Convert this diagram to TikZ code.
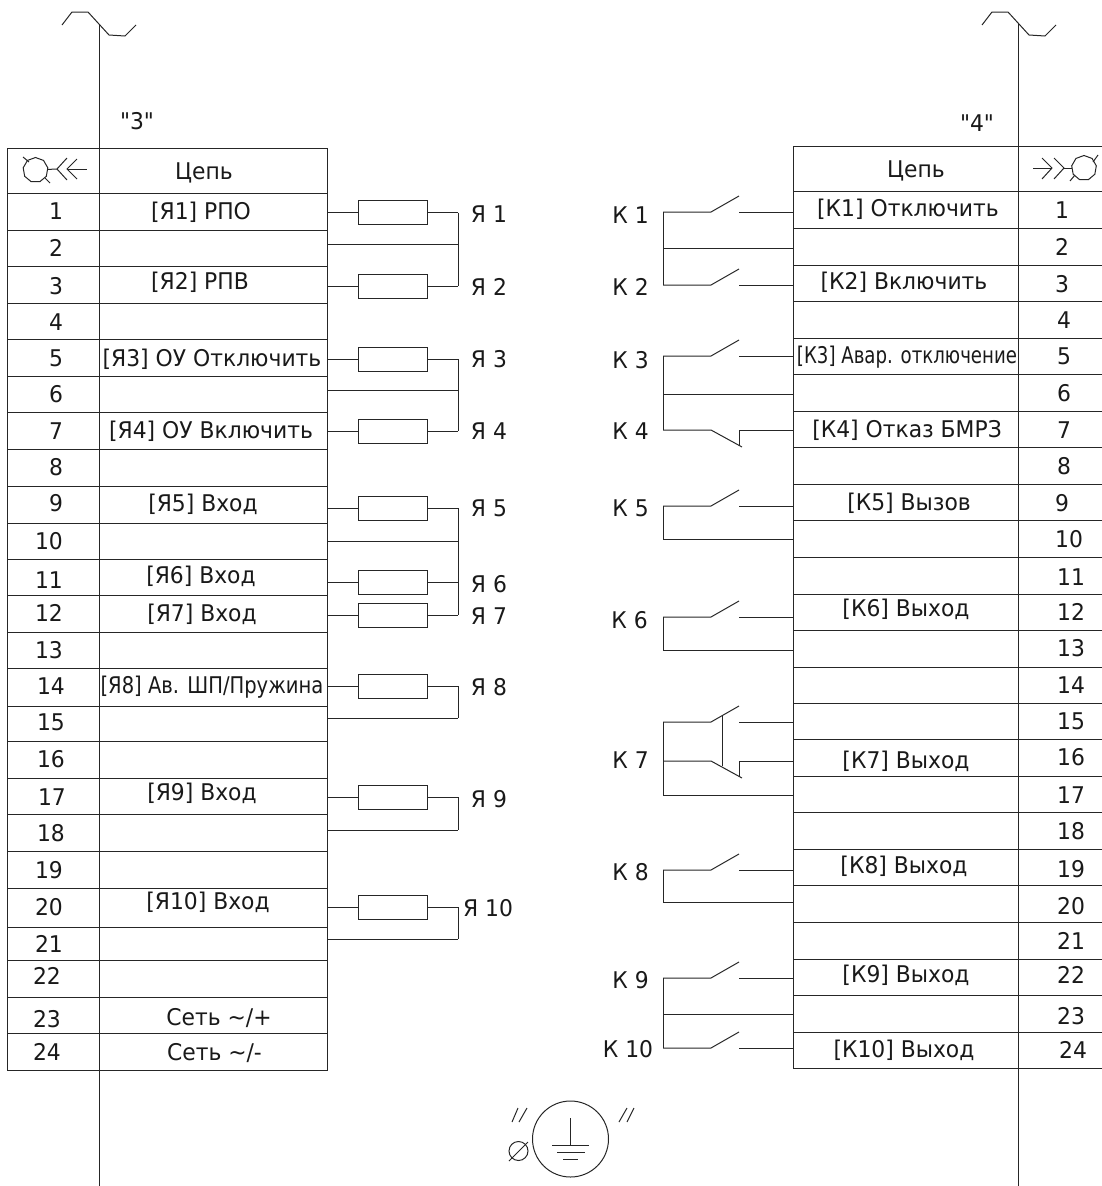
\documentclass[tikz,border=0pt]{standalone}
\usepackage{fontspec}
\usepackage{xcolor}
\setmainfont{DejaVu Sans}[FakeStretch=0.95]
\newfontfamily\quotefont{DejaVu Sans}[FakeStretch=0.95]
\newfontfamily\tightfont{DejaVu Sans}[FakeStretch=0.85]
\newfontfamily\tighterfont{DejaVu Sans}[FakeStretch=0.79]
\usetikzlibrary{shapes,arrows}
\tikzset{
  wire/.style={line width=1pt,black!85},
  fuse/.style={draw,line width=1pt,black!85,minimum width=69pt,minimum height=24pt,inner sep=0pt},
  lbl/.style={inner sep=0pt,text=black!90,text height=16.5pt,text depth=0pt,font=\fontsize{23}{27}\selectfont},
}

\begin{document}
\begin{tikzpicture}[x=1pt,y=-1pt]
                \useasboundingbox (0,0) rectangle (1102,1186);
                % Draw vertical buses
                \draw[wire] (99,24) -- (99,1186);
                \draw[wire] (1018.5,24) -- (1018.5,1186);
                % wave on top of the buses
                \draw[wire] (62,25) -- (72,12) -- (88,12) -- (109,35) -- (125,36) -- (136,25);
                \draw[wire] (982,25) -- (992,12) -- (1008,12) -- (1029,35) -- (1045,36) -- (1056,25);

                % left table
                \draw[wire] (7.5,148) rectangle (327.5,1070);
                \foreach \rowy in {193,230,266,303,339,376,412,449,486,523,559,595.5,632,668.5,706,741,778,814,851,888,927,960.5,997,1033.5}
                        \draw[wire] (7.5,\rowy) -- (327.5,\rowy);
                % right table
                \draw[wire] (1102,146) -- (793,146) -- (793,1068) -- (1102,1068);
                \foreach \rowy in {191.5,228.5,265,301,338,374,411,447,484,520,557,594,630,667,703,739,776,812,849,885,922,959,995,1032}
                        \draw[wire] (793,\rowy) -- (1102,\rowy);

                % left connector symbol
                \node[draw,wire,regular polygon,regular polygon sides=9,minimum size=25pt,inner sep=0pt] (plug3) at (35.5,170) {};
                \coordinate (plug3end) at (57,169);
                \draw[wire] (plug3) -- (plug3end);
                \draw[wire] (23,157) -- (29,162);
                \draw[wire] (45,178) -- (50,183);
                \draw[wire] (67,158) -- (plug3end) -- (67,180);
                \draw[wire] (77,159) -- (67,169) -- (77,179);
                \draw[wire] (67,169) -- (87,169);
                % right connector symbol
                \node[draw,wire,regular polygon,regular polygon sides=9,minimum size=25pt,inner sep=0pt] (plug4) at (1084,168) {};
                \coordinate (plug4end) at (1064,168);
                \draw[wire] (plug4) -- (plug4end);
                \draw[wire] (1093,162) -- (1098,155);
                \draw[wire] (1075,175) -- (1070,181);
                \draw[wire] (1054,158) -- (plug4end) -- (1054,179);
                \draw[wire] (1042,158) -- (1052,168) -- (1042,179);
                \draw[wire] (1033,168) -- (1052,168);

                % Fuses
                \foreach \fnum/\fy in {1/212.5,2/286,3/359,4/431,5/508,6/582,7/615,8/686,9/797,10/907}{
                        \node[fuse] (fuse\fnum) at (392.5,\fy) {};
                        \coordinate (fin\fnum) at (328,\fy);
                        \coordinate (fout\fnum) at (458,\fy);
                        \draw[wire] (fin\fnum) -- (fuse\fnum) -- (fout\fnum);
                }
                % return wires
                \foreach \rnum/\ry in {1/244.5,3/390,5/541,8/718,9/830,10/939}{
                        \coordinate (rin\rnum) at (328,\ry);
                        \coordinate (rout\rnum) at (458,\ry);
                        \draw[wire] (rin\rnum) -- (rout\rnum);
                }
                \draw[wire] (fout1) -- (fout2);
                \draw[wire] (fout3) -- (fout4);
                \draw[wire] (fout5) -- (fout7);
                \draw[wire] (fout8) -- (rout8);
                \draw[wire] (fout9) -- (rout9);
                \draw[wire] (fout10) -- (rout10);

                % Fuse labels
                \node[lbl] (lfuse1) at (489,214) {Я 1};
                \node[lbl] (lfuse2) at (489,287) {Я 2};
                \node[lbl] (lfuse3) at (489,359) {Я 3};
                \node[lbl] (lfuse4) at (489,431) {Я 4};
                \node[lbl] (lfuse5) at (489,508) {Я 5};
                \node[lbl] (lfuse6) at (489,584) {Я 6};
                \node[lbl] (lfuse7) at (489,616) {Я 7};
                \node[lbl] (lfuse8) at (489,687) {Я 8};
                \node[lbl] (lfuse9) at (489,799) {Я 9};
                \node[lbl] (lfuse10) at (488,908) {Я 10};

                % Contacts
                \foreach \knum/\ky in {1/212,2/285,3/356,4/430,5/506,6/617,7/722,70/761,8/870,9/978,10/1048}{
                        \coordinate (ka\knum) at (663,\ky);
                        \coordinate (kb\knum) at (711,\ky);
                        \coordinate (kc\knum) at (739,\ky);
                        \coordinate (kd\knum) at (793,\ky);
                }
                % open contacts
                \foreach \knum in {1,2,3,5,6,7,8,9,10}{
                        \draw[wire] (ka\knum) -- (kb\knum) -- ++(28,-16);
                        \draw[wire] (kc\knum) -- (kd\knum);
                }
                % closed contacts
                \foreach \knum in {4,70}{
                        \draw[wire] (ka\knum) -- (kb\knum) -- ++(31,17);
                        \draw[wire] (kd\knum) -- (kc\knum) -- ++(0,15);
                }
                % link of K 7
                \coordinate (klinka) at (722,716);
                \coordinate (klinkb) at (722,766);
                \draw[wire] (klinka) -- (klinkb);
                % return wires of contacts
                \foreach \rnum/\ry in {1/248,3/394,5/539,6/650,7/795,8/902,9/1014}{
                        \coordinate (kra\rnum) at (663,\ry);
                        \coordinate (krd\rnum) at (793,\ry);
                        \draw[wire] (kra\rnum) -- (krd\rnum);
                }
                \draw[wire] (ka1) -- (ka2);
                \draw[wire] (ka3) -- (ka4);
                \draw[wire] (ka5) -- (kra5);
                \draw[wire] (ka6) -- (kra6);
                \draw[wire] (ka7) -- (kra7);
                \draw[wire] (ka8) -- (kra8);
                \draw[wire] (ka9) -- (ka10);

                % Contact labels
                \node[lbl] (lk1) at (630.5,215) {К 1};
                \node[lbl] (lk2) at (630.5,287) {К 2};
                \node[lbl] (lk3) at (630.5,360) {К 3};
                \node[lbl] (lk4) at (630.5,431) {К 4};
                \node[lbl] (lk5) at (630.5,508) {К 5};
                \node[lbl] (lk6) at (629.5,620) {К 6};
                \node[lbl] (lk7) at (630.5,760) {К 7};
                \node[lbl] (lk8) at (630.5,872) {К 8};
                \node[lbl] (lk9) at (630.5,980) {К 9};
                \node[lbl] (lk10) at (628,1049) {К 10};

                % Table headers
                \node[lbl,font=\fontsize{23}{27}\quotefont] (name3) at (137,121) {"3"};
                \node[lbl,font=\fontsize{23}{27}\quotefont] (name4) at (977,123) {"4"};
                \node[lbl] (head3) at (204,171) {Цепь};
                \node[lbl] (head4) at (916,169) {Цепь};

                % left numbers
                \foreach \nx/\ny/\ntxt in {56/211/1,56/248/2,56/286/3,56/322/4,56/358/5,56/394/6,56/431/7,56/467/8,56/503/9,49/541/10,49/580/11,49/613/12,49/650/13,51/686/14,51/722/15,51/759/16,52/797/17,51/833/18,49/870/19,49/907/20,49/944/21,47/976/22,47/1019/23,47/1052/24}
                        \node[lbl] (numl\ntxt) at (\nx,\ny) {\ntxt};
                % right numbers
                \foreach \nx/\ny/\ntxt in {1062/210/1,1062/247/2,1062/284/3,1064/320/4,1064/356/5,1064/393/6,1064/430/7,1064/466/8,1062/503/9,1069/539/10,1071/577/11,1071/612/12,1071/648/13,1071/685/14,1071/721/15,1071/757/16,1071/795/17,1071/831/18,1071/869/19,1071/906/20,1071/941/21,1071/975/22,1071/1016/23,1073/1050/24}
                        \node[lbl] (numr\ntxt) at (\nx,\ny) {\ntxt};

                % left table text
                \node[lbl] (tl1) at (201,211) {[Я1] РПО};
                \node[lbl] (tl3) at (200,281) {[Я2] РПВ};
                \node[lbl] (tl5) at (212,358) {[Я3] ОУ Отключить};
                \node[lbl] (tl7) at (211,430) {[Я4] ОУ Включить};
                \node[lbl] (tl9) at (203,503) {[Я5] Вход};
                \node[lbl] (tl11) at (201,575) {[Я6] Вход};
                \node[lbl] (tl12) at (202,613) {[Я7] Вход};
                \node[lbl,font=\fontsize{23}{27}\tightfont] (tl14) at (212,685) {[Я8] Ав. ШП/Пружина};
                \node[lbl] (tl17) at (202,792) {[Я9] Вход};
                \node[lbl] (tl20) at (208,901) {[Я10] Вход};
                \node[lbl] (tl23) at (219,1017) {Сеть \textasciitilde/+};
                \node[lbl] (tl24) at (214.5,1052) {Сеть \textasciitilde/-};

                % right table text
                \node[lbl] (tr1) at (908,208) {[К1] Отключить};
                \node[lbl] (tr3) at (904,281) {[К2] Включить};
                \node[lbl,font=\fontsize{23}{27}\tighterfont] (tr5) at (907,355) {[К3] Авар. отключение};
                \node[lbl] (tr7) at (907,429) {[К4] Отказ БМРЗ};
                \node[lbl] (tr9) at (909,502) {[К5] Вызов};
                \node[lbl] (tr12) at (906,608) {[К6] Выход};
                \node[lbl] (tr16) at (906,760) {[К7] Выход};
                \node[lbl] (tr19) at (904,865) {[К8] Выход};
                \node[lbl] (tr22) at (906,974) {[К9] Выход};
                \node[lbl] (tr24) at (904,1049) {[К10] Выход};

                % Ground symbol
                \node[draw,wire,circle,minimum size=76pt,inner sep=0pt] (gnd) at (570.5,1139) {};
                \draw[wire] (570.5,1118) -- (570.5,1145);
                \draw[wire] (552,1145) -- (589,1145);
                \draw[wire] (557,1152) -- (585,1152);
                \draw[wire] (563,1159) -- (578,1159);
                \draw[wire] (512,1122) -- (518,1108);
                \draw[wire] (519,1122) -- (527,1108);
                \draw[wire] (619,1122) -- (627,1108);
                \draw[wire] (627,1122) -- (634,1108);
                \node[draw,wire,circle,minimum size=19pt,inner sep=0pt] (diam) at (518.5,1151) {};
                \draw[wire] (509,1161) -- (528,1142);
\end{tikzpicture}
\end{document}
